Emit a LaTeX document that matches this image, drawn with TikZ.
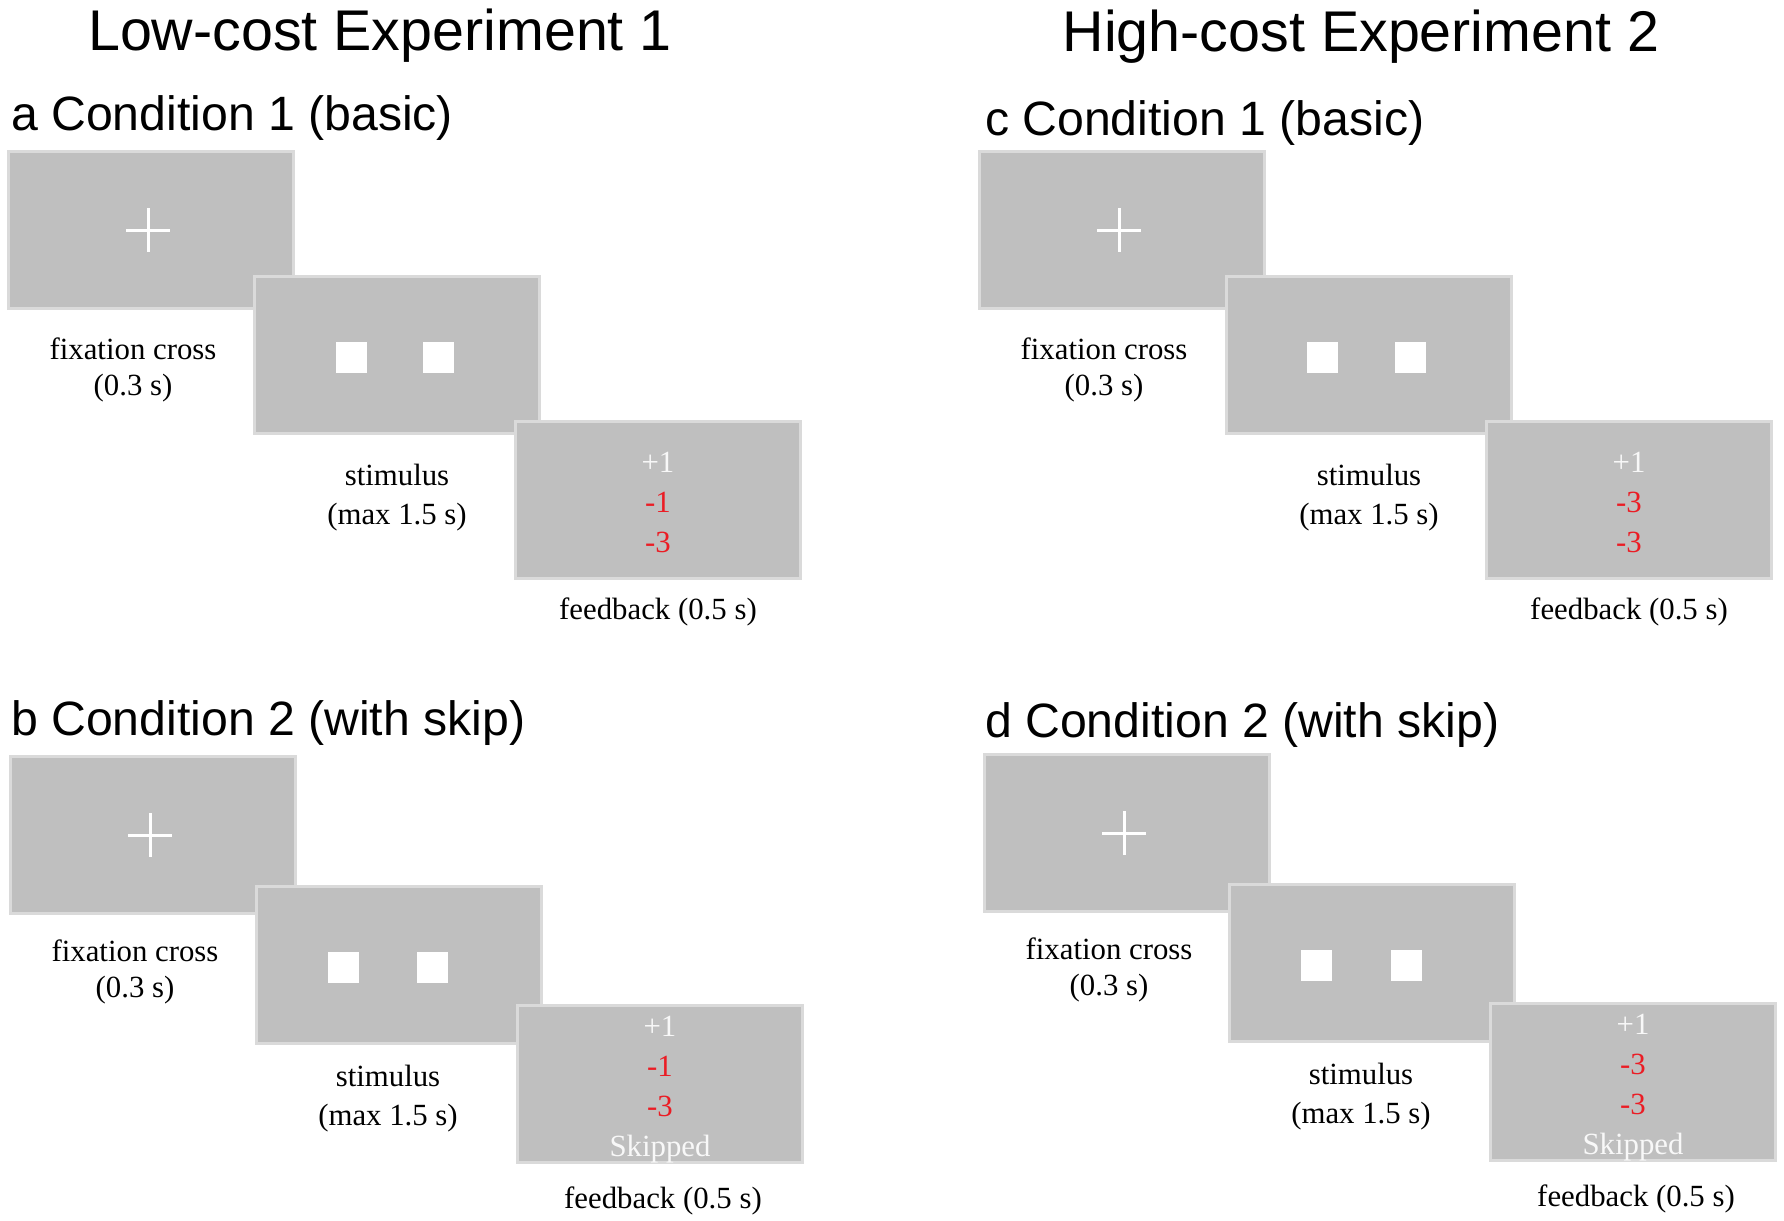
\documentclass[tikz,border=0pt]{standalone}
\usepackage{fontspec}
\setmainfont{Liberation Serif}
\newfontfamily\headfont{Liberation Sans}
\usetikzlibrary{calc}

\definecolor{screengray}{RGB}{191,191,191}
\definecolor{screenedge}{RGB}{218,218,218}
\definecolor{penred}{RGB}{235,28,36}
\definecolor{gainwhite}{RGB}{248,248,248}

\begin{document}
\begin{tikzpicture}[x=0.5pt,y=-0.5pt]
    \tikzset{screen/.style = {draw=screenedge, fill=screengray, line width=1.2pt, minimum width=142.5pt, minimum height=78.5pt, inner sep=0pt}}
    \tikzset{target/.style = {fill=white, minimum size=15.5pt, inner sep=0pt}}
    \tikzset{crossbar/.style = {draw=white, line width=1.5pt}}
    \tikzset{caption/.style = {align=center, font=\fontsize{15.4}{18.2}\selectfont}}
    \tikzset{points/.style = {align=center, font=\fontsize{15.4}{20}\selectfont}}
    \tikzset{heading/.style = {anchor=base, font=\headfont\fontsize{28.7}{34}\selectfont}}
    \tikzset{panel/.style = {anchor=base west, font=\headfont\fontsize{24.1}{29}\selectfont}}

    \useasboundingbox (0,0) rectangle (1784,1221);

    % headings
    \node[heading] (lowcost) at (380,50) {Low-cost Experiment 1};
    \node[heading] (highcost) at (1361,51) {High-cost Experiment 2};
    \node[panel] (conda) at (4,130) {a Condition 1 (basic)};
    \node[panel] (condb) at (4,735) {b Condition 2 (with skip)};
    \node[panel] (condc) at (978,135) {c Condition 1 (basic)};
    \node[panel] (condd) at (978,737) {d Condition 2 (with skip)};

    % trials: panel / fixation / stimulus / feedback / squares / penalty / skip
    \foreach \p/\fx/\fy/\sx/\sy/\bx/\by/\qa/\qb/\pen/\skp in {
        a/151/230/397/355/658/500/351/438/-1/0,
        b/153/835/399/965/660/1084/343/432/-1/1,
        c/1122/230/1369/355/1629/500/1322/1410/-3/0,
        d/1127/833/1372/963/1633/1082/1316/1406/-3/1}
    {
      \node[screen] (fix\p) at (\fx,\fy) {};
      \draw[crossbar] ($(fix\p)+(-25,0)$) -- ($(fix\p)+(19,0)$);
      \draw[crossbar] ($(fix\p)+(-3,-22)$) -- ($(fix\p)+(-3,22)$);
      \node[caption] (fixlab\p) at ($(fix\p.south)+(-18,{60.5-3.5*\skp})$) {fixation cross\\(0.3 s)};

      \node[screen] (stim\p) at (\sx,\sy) {};
      \node[target] (left\p) at (\qa,{\sy+2}) {};
      \node[target] (right\p) at (\qb,{\sy+2}) {};
      \node[caption, font=\fontsize{15.4}{19.3}\selectfont] (stimlab\p) at ($(stim\p.south)+({-11*\skp},{63-9*\skp})$) {stimulus\\(max 1.5 s)};

      \node[screen] (fb\p) at (\bx,\by) {};
      \node[points] (pts\p) at ($(fb\p)+(0,{2+4*\skp})$) {\textcolor{gainwhite}{+1}\\\textcolor{penred}{\pen}\\\textcolor{penred}{-3}\ifnum\skp=1 \\\textcolor{gainwhite}{Skipped}\fi};
      \node[caption] (fblab\p) at ($(fb\p.south)+({3*\skp},{32+5*\skp})$) {feedback (0.5 s)};
    }

  \end{tikzpicture}
\end{document}
